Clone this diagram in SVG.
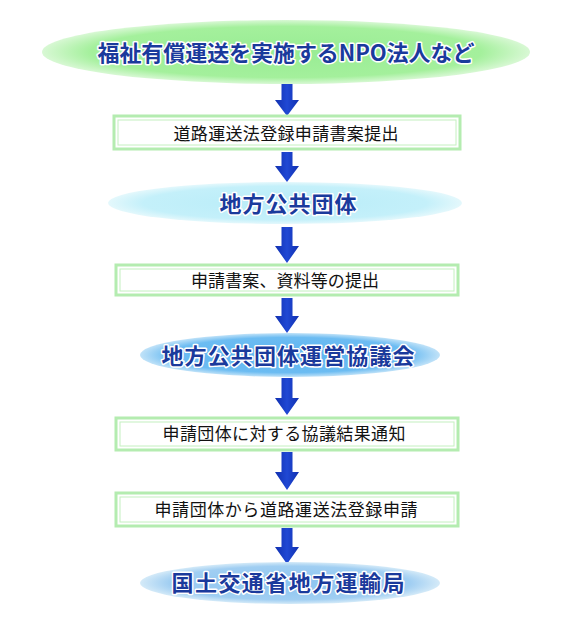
<svg xmlns="http://www.w3.org/2000/svg" width="562" height="617" viewBox="0 0 562 617">
<defs>
<radialGradient id="gGreen" cx="0.5" cy="0.5" r="0.5">
<stop offset="0" stop-color="#98ec94"/>
<stop offset="0.8" stop-color="#a4f09c"/>
<stop offset="1" stop-color="#d8f8d4"/>
</radialGradient>
<radialGradient id="gCyan" cx="0.5" cy="0.5" r="0.5">
<stop offset="0" stop-color="#b8ecf8"/>
<stop offset="0.8" stop-color="#c4f0fa"/>
<stop offset="1" stop-color="#e4f8fc"/>
</radialGradient>
<radialGradient id="gBlue" cx="0.5" cy="0.5" r="0.5">
<stop offset="0" stop-color="#5cb4f0"/>
<stop offset="0.8" stop-color="#6cbcf2"/>
<stop offset="1" stop-color="#c0e2f8"/>
</radialGradient>
<radialGradient id="gPale" cx="0.5" cy="0.5" r="0.5">
<stop offset="0" stop-color="#8cc4f0"/>
<stop offset="0.8" stop-color="#a0cef2"/>
<stop offset="1" stop-color="#d4eaf8"/>
</radialGradient>
<linearGradient id="gArrow" x1="0" y1="0" x2="1" y2="0">
<stop offset="0" stop-color="#1030b0"/>
<stop offset="0.5" stop-color="#2048d4"/>
<stop offset="1" stop-color="#1030b0"/>
</linearGradient>
</defs>
<style>
.box-outer{fill:#ffffff;stroke:#b4ecb0;stroke-width:3}
.box-inner{fill:none;stroke:#c4f0c0;stroke-width:1}
.step{font-family:"Noto Sans CJK JP","Noto Sans",sans-serif;font-size:17px;fill:#111111;text-anchor:middle}
.title{font-family:"Noto Sans CJK JP","Noto Sans",sans-serif;font-weight:bold;font-size:22px;fill:#1a3a9c;text-anchor:middle;stroke:#ffffff;stroke-width:3;stroke-linejoin:round;paint-order:stroke}
.arr{fill:url(#gArrow)}
</style>
<rect width="562" height="617" fill="#ffffff"/>

<g id="connectors">
<path class="arr" d="M281.5,84 H292.5 V100 H299 L287,116 L275,100 H281.5 Z"/>
<path class="arr" d="M281.5,152 H292.5 V166 H299 L287,182 L275,166 H281.5 Z"/>
<path class="arr" d="M281.5,227 H292.5 V246 H299 L287,263 L275,246 H281.5 Z"/>
<path class="arr" d="M281.5,298 H292.5 V316 H299 L287,333 L275,316 H281.5 Z"/>
<path class="arr" d="M281.5,378 H292.5 V398 H299 L287,415 L275,398 H281.5 Z"/>
<path class="arr" d="M281.5,452 H292.5 V472 H299 L287,490 L275,472 H281.5 Z"/>
<path class="arr" d="M281.5,528 H292.5 V547 H299 L287,564 L275,547 H281.5 Z"/>
</g>

<g id="node-npo">
<ellipse cx="286" cy="52" rx="244" ry="32" fill="url(#gGreen)"/>
<text class="title" x="286" y="61" textLength="377" lengthAdjust="spacing">福祉有償運送を実施するNPO法人など</text>
</g>

<g id="node-step1">
<rect class="box-outer" x="114" y="116" width="346" height="33"/>
<rect class="box-inner" x="118" y="120" width="338" height="25"/>
<text class="step" x="286" y="140" textLength="225" lengthAdjust="spacing">道路運送法登録申請書案提出</text>
</g>

<g id="node-local">
<ellipse cx="285" cy="203" rx="177" ry="21" fill="url(#gCyan)"/>
<text class="title" x="288" y="212" textLength="137" lengthAdjust="spacing">地方公共団体</text>
</g>

<g id="node-step2">
<rect class="box-outer" x="116" y="265" width="342" height="30"/>
<rect class="box-inner" x="120" y="269" width="334" height="22"/>
<text class="step" x="285" y="287" textLength="188" lengthAdjust="spacing">申請書案、資料等の提出</text>
</g>

<g id="node-council">
<ellipse cx="290" cy="355" rx="150" ry="22" fill="url(#gBlue)"/>
<text class="title" x="288" y="364" textLength="253" lengthAdjust="spacing">地方公共団体運営協議会</text>
</g>

<g id="node-step3">
<rect class="box-outer" x="116" y="418" width="342" height="32"/>
<rect class="box-inner" x="120" y="422" width="334" height="24"/>
<text class="step" x="284" y="440" textLength="243" lengthAdjust="spacing">申請団体に対する協議結果通知</text>
</g>

<g id="node-step4">
<rect class="box-outer" x="116" y="493" width="342" height="33"/>
<rect class="box-inner" x="120" y="497" width="334" height="25"/>
<text class="step" x="286" y="516" textLength="263" lengthAdjust="spacing">申請団体から道路運送法登録申請</text>
</g>

<g id="node-bureau">
<ellipse cx="290" cy="583" rx="150" ry="21" fill="url(#gPale)"/>
<text class="title" x="288" y="591" textLength="233" lengthAdjust="spacing">国土交通省地方運輸局</text>
</g>
</svg>
